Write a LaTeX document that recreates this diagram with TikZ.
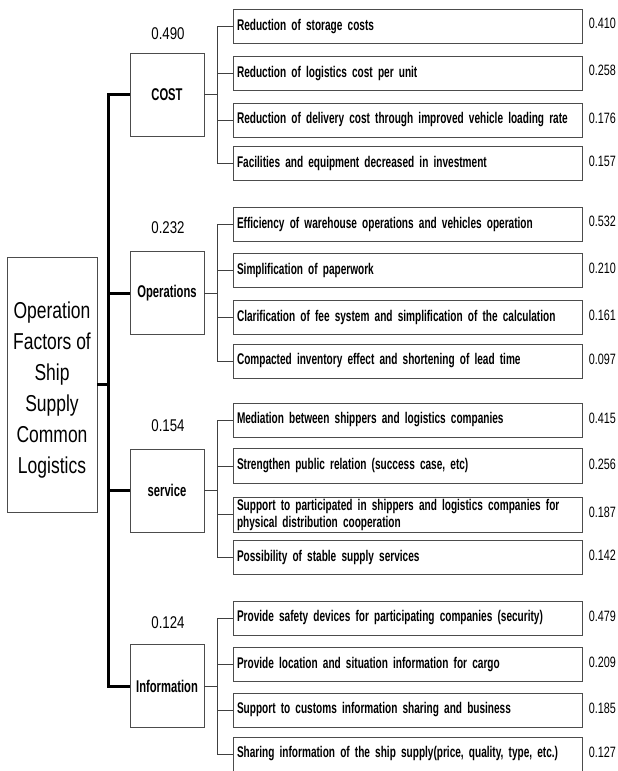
\documentclass[tikz,border=0pt]{standalone}
\usepackage{fontspec}
\setmainfont{Liberation Sans}
\newfontfamily\fsub{Liberation Sans}[FakeStretch=0.65]
\newfontfamily\fcat{Liberation Sans}[FakeStretch=0.66]
\newfontfamily\fnum{Liberation Sans}[FakeStretch=0.72]
\newfontfamily\fcn{Liberation Sans}[FakeStretch=0.78]
\newfontfamily\froot{Liberation Sans}[FakeStretch=0.76]
\begin{document}
\begin{tikzpicture}[x=1pt,y=-1pt,
  boxline/.style={draw=black!70,line width=0.8pt},
  rootbox/.style={boxline,minimum width=90pt,minimum height=255pt,inner sep=0pt},
  roottext/.style={align=center,inner sep=0pt,font=\froot\fontsize{23}{31}\selectfont},
  catbox/.style={boxline,minimum width=74pt,minimum height=83pt,inner sep=0pt,
    font=\fcat\fontsize{17}{19}\selectfont\bfseries},
  subbox/.style={boxline,minimum height=34pt,text width=341pt,inner xsep=4pt,inner ysep=1pt,align=left,
    font=\fsub\fontsize{15.5}{17}\selectfont\bfseries},
  wnum/.style={anchor=east,inner sep=0pt,font=\fnum\fontsize{15}{16}\selectfont},
  cnum/.style={inner sep=0pt,font=\fcn\fontsize{17}{20}\selectfont},
  conn/.style={draw=black!75,line width=0.8pt},
  trunk/.style={draw=black,line width=3pt},
  rootline/.style={draw=black,line width=2.2pt}
]
\useasboundingbox (0,0) rectangle (618,771);

% root and categories
\node[rootbox] (root) at (52,384.5) {};
\node[roottext] (rootlbl) at (52,390) {Operation\\Factors of\\Ship\\Supply\\Common\\Logistics};
\node[catbox] (cost) at (167,94.5) {COST};
\node[catbox] (ops)  at (167,293) {Operations};
\node[catbox] (serv) at (167,490.5) {service};
\node[catbox] (info) at (167,686) {Information};

\node[cnum] (ncost) at (168,34)  {0.490};
\node[cnum] (nops)  at (168,228) {0.232};
\node[cnum] (nserv) at (168,426) {0.154};
\node[cnum] (ninfo) at (168,623) {0.124};

% COST children
\node[subbox] (c11) at (407.5,26.5) {Reduction of storage costs};
\node[subbox] (c12) at (407.5,73.5) {Reduction of logistics cost per unit};
\node[subbox] (c13) at (407.5,120)  {Reduction of delivery cost through improved vehicle loading rate};
\node[subbox] (c14) at (407.5,163.5) {Facilities and equipment decreased in investment};
\node[wnum] (w11) at (616,23.5)  {0.410};
\node[wnum] (w12) at (616,70.5)  {0.258};
\node[wnum] (w13) at (616,118)   {0.176};
\node[wnum] (w14) at (616,161.5) {0.157};

% Operations children
\node[subbox] (c21) at (407.5,224)   {Efficiency of warehouse operations and vehicles operation};
\node[subbox] (c22) at (407.5,270.5) {Simplification of paperwork};
\node[subbox] (c23) at (407.5,317)   {Clarification of fee system and simplification of the calculation};
\node[subbox] (c24) at (407.5,361)   {Compacted inventory effect and shortening of lead time};
\node[wnum] (w21) at (616,221)   {0.532};
\node[wnum] (w22) at (616,268)   {0.210};
\node[wnum] (w23) at (616,315)   {0.161};
\node[wnum] (w24) at (616,359)   {0.097};

% service children
\node[subbox] (c31) at (407.5,420)   {Mediation between shippers and logistics companies};
\node[subbox,minimum height=35pt] (c32) at (407.5,466) {Strengthen public relation (success case, etc)};
\node[subbox,minimum height=35pt,inner ysep=0pt] (c33) at (407.5,514.5) {Support to participated in shippers and logistics companies for\\physical distribution cooperation};
\node[subbox] (c34) at (407.5,557)   {Possibility of stable supply services};
\node[wnum] (w31) at (616,418)   {0.415};
\node[wnum] (w32) at (616,464)   {0.256};
\node[wnum] (w33) at (616,512.5) {0.187};
\node[wnum] (w34) at (616,555)   {0.142};

% Information children
\node[subbox] (c41) at (407.5,618)   {Provide safety devices for participating companies (security)};
\node[subbox] (c42) at (407.5,664.5) {Provide location and situation information for cargo};
\node[subbox] (c43) at (407.5,710)   {Support to customs information sharing and business};
\node[subbox] (c44) at (407.5,754)   {Sharing information of the ship supply(price, quality, type, etc.)};
\node[wnum] (w41) at (616,616)   {0.479};
\node[wnum] (w42) at (616,662.5) {0.209};
\node[wnum] (w43) at (616,708)   {0.185};
\node[wnum] (w44) at (616,752)   {0.127};

% trunk
\draw[trunk] (cost.west) -- ++(-21.5,0) coordinate (tk) |- (info.west);
\draw[trunk] (ops.west) -- (ops.west -| tk);
\draw[trunk] (serv.west) -- (serv.west -| tk);
\draw[rootline] (root.east) -- (root.east -| tk);

% combs
\draw[conn] (cost.east) -- ++(14,0);
\draw[conn] (c11.west) -- ++(-15,0) |- (c14.west);
\draw[conn] (c12.west) -- ++(-15,0);
\draw[conn] (c13.west) -- ++(-15,0);

\draw[conn] (ops.east) -- ++(14,0);
\draw[conn] (c21.west) -- ++(-15,0) |- (c24.west);
\draw[conn] (c22.west) -- ++(-15,0);
\draw[conn] (c23.west) -- ++(-15,0);

\draw[conn] (serv.east) -- ++(14,0);
\draw[conn] (c31.west) -- ++(-15,0) |- (c34.west);
\draw[conn] (c32.west) -- ++(-15,0);
\draw[conn] (c33.west) -- ++(-15,0);

\draw[conn] (info.east) -- ++(14,0);
\draw[conn] (c41.west) -- ++(-15,0) |- (c44.west);
\draw[conn] (c42.west) -- ++(-15,0);
\draw[conn] (c43.west) -- ++(-15,0);
\end{tikzpicture}
\end{document}
